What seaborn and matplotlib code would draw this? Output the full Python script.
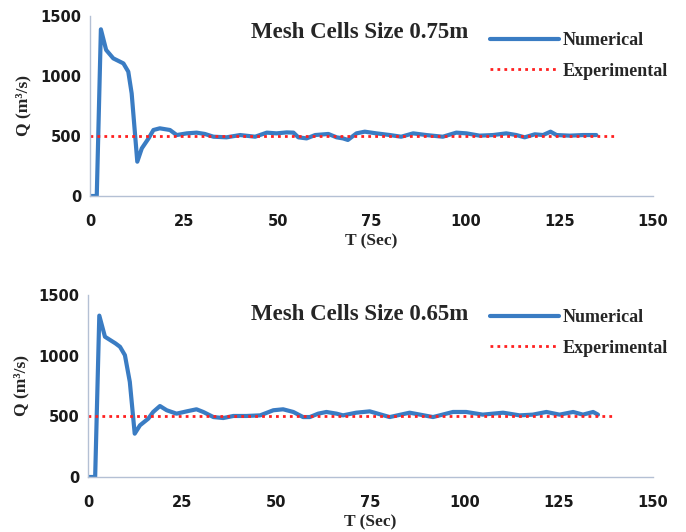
import matplotlib
matplotlib.use("Agg")
import matplotlib.pyplot as plt
import seaborn as sns
import pandas as pd

# ---- data ----
t_075 = [0, 1.8, 2.9, 4.3, 6.2, 8.9, 10.2, 11.1, 12.6, 13.8, 15.6, 16.9, 18.6, 21.3, 23.1,
         25.8, 28.4, 30.6, 32.9, 36.4, 40.0, 44.0, 47.1, 49.7, 52.4, 54.2, 55.5, 57.7, 60.0,
         63.5, 65.7, 67.4, 68.7, 71.0, 73.2, 76.3, 79.9, 82.9, 86.1, 89.6, 94.0, 97.6, 100.3,
         103.8, 107.4, 110.9, 113.6, 115.8, 118.5, 120.7, 122.7, 124.3, 127.8, 131.4, 134.9]
q_075 = [0, 0, 1389, 1217, 1147, 1105, 1036, 855, 286, 397, 480, 550, 564, 550, 508,
         522, 528, 517, 494, 489, 508, 494, 528, 522, 530, 528, 489, 480, 508,
         517, 489, 480, 467, 522, 536, 522, 508, 494, 522, 508, 494, 528, 522,
         503, 508, 522, 508, 489, 514, 508, 536, 508, 503, 508, 508]

t_065 = [0, 1.9, 3.0, 4.5, 7.3, 8.5, 9.8, 11.1, 12.4, 13.8, 16.0, 17.3, 19.1, 20.9, 23.5,
         26.2, 28.8, 30.6, 33.3, 35.9, 38.6, 42.1, 45.7, 49.2, 51.8, 54.5, 57.1, 58.9, 61.1,
         63.3, 66.0, 67.7, 71.2, 74.8, 80.1, 85.4, 91.6, 96.9, 100.4, 104.8, 110.2, 114.6,
         118.1, 121.7, 125.2, 128.8, 131.4, 134.1, 135.4]
q_065 = [0, 0, 1330, 1156, 1101, 1073, 1004, 784, 357, 426, 481, 536, 585, 550, 522,
         541, 558, 536, 494, 486, 503, 503, 508, 550, 558, 536, 494, 494, 522,
         536, 522, 508, 530, 541, 494, 530, 494, 536, 536, 514, 530, 508,
         514, 536, 514, 536, 514, 536, 514]

t_exp = [0, 140]
q_exp = [500, 500]

titles = ["Mesh Cells Size 0.75m", "Mesh Cells Size 0.65m"]
x_ticks = [0, 25, 50, 75, 100, 125, 150]
y_ticks = [0, 500, 1000, 1500]

sns.set_theme(style="white")
plt.rcParams["font.family"] = ["DejaVu Sans"]

fig = plt.figure(figsize=(6.86, 5.32), dpi=100)
axes = [fig.add_axes([90/686, 1-196/532, (653-90)/686, 180/532]),
        fig.add_axes([88/686, 1-477/532, (653-88)/686, 182/532])]

serif = ["Liberation Serif", "DejaVu Serif"]
blue = "#3a7cc3"
red = "#ff2020"
spine_c = "#b4c0d4"

datasets = [(t_075, q_075), (t_065, q_065)]
legend_y = [32, 309]
title_y = [33, 314]

for i, ax in enumerate(axes):
    tn, qn = datasets[i]
    df_n = pd.DataFrame({"T": tn, "Q": qn})
    df_e = pd.DataFrame({"T": t_exp, "Q": q_exp})
    sns.lineplot(data=df_n, x="T", y="Q", ax=ax, color=blue, linewidth=3.0,
                 label="Numerical", sort=False, solid_joinstyle="round",
                 solid_capstyle="round")
    sns.lineplot(data=df_e, x="T", y="Q", ax=ax, color=red, linewidth=2.0,
                 linestyle=(0, (1, 1.5)), label="Experimental")
    ax.set_xlim(0, 150)
    ax.set_ylim(0, 1500)
    ax.set_xticks(x_ticks)
    ax.set_yticks(y_ticks)
    ax.tick_params(axis="x", length=0, pad=13, labelsize=10.5, labelcolor="#1a1a1a")
    ax.tick_params(axis="y", length=0, pad=6, labelsize=10.5, labelcolor="#1a1a1a")
    for lab in ax.get_xticklabels() + ax.get_yticklabels():
        lab.set_fontweight("bold")
    for s in ["top", "right"]:
        ax.spines[s].set_visible(False)
    for s in ["left", "bottom"]:
        ax.spines[s].set_color(spine_c)
        ax.spines[s].set_linewidth(1.0)
    ax.set_xlabel("T (Sec)", family=serif, fontweight="bold", fontsize=12.5, labelpad=3)
    ax.set_ylabel("Q (m³/s)", family=serif, fontweight="bold", fontsize=12.5, labelpad=7)
    fig.text(251/686, 1-title_y[i]/532, titles[i], family=serif, fontweight="bold",
             fontsize=16.5, ha="left", va="center")
    leg = ax.legend(loc="upper left", bbox_to_anchor=(490/686, 1-legend_y[i]/532),
                    bbox_transform=fig.transFigure, frameon=False, borderpad=0,
                    borderaxespad=0, handlelength=3.8, handletextpad=0.25,
                    labelspacing=0.75, prop={"family": serif, "weight": "bold", "size": 13})

fig.savefig("out.png", dpi=100)
